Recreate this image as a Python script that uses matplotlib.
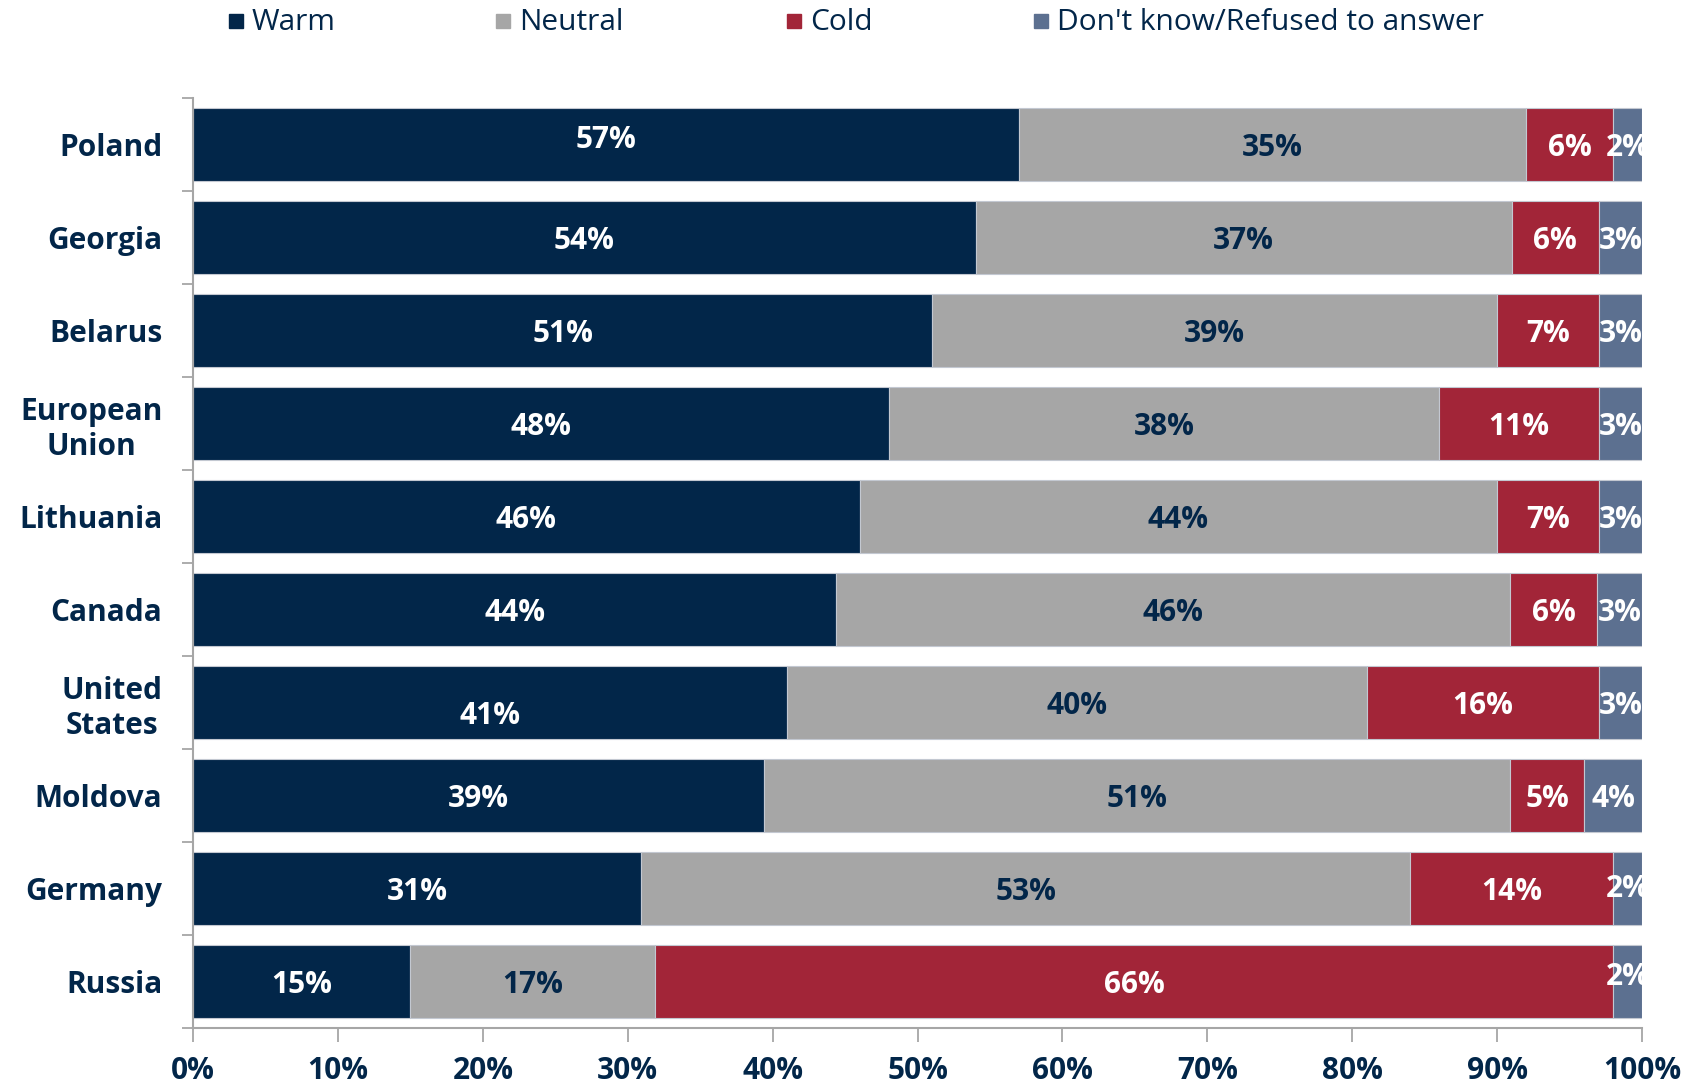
import numpy as np
import matplotlib.pyplot as plt
from matplotlib.patches import Rectangle

countries = ["Poland", "Georgia", "Belarus", "European\nUnion", "Lithuania",
             "Canada", "United\nStates", "Moldova", "Germany", "Russia"]
warm = [57, 54, 51, 48, 46, 44.4, 41, 39.4, 30.9, 15]
neutral = [35, 37, 39, 38, 44, 46.5, 40, 51.5, 53.1, 16.9]
cold = [6, 6, 7, 11, 7, 6, 16, 5.1, 14, 66.1]
dk = [2, 3, 3, 3, 3, 3.1, 3, 4, 2, 2]

warm_lbl = [57, 54, 51, 48, 46, 44, 41, 39, 31, 15]
neutral_lbl = [35, 37, 39, 38, 44, 46, 40, 51, 53, 17]
cold_lbl = [6, 6, 7, 11, 7, 6, 16, 5, 14, 66]
dk_lbl = [2, 3, 3, 3, 3, 3, 3, 4, 2, 2]

series = ["Warm", "Neutral", "Cold", "Don't know/Refused to answer"]
colors = ["#022649", "#A6A6A6", "#A22538", "#5C7090"]
text_colors = ["white", "#022649", "white", "white"]
NAVY = "#022649"
FONT = "Open Sans"

# a few labels in the original sit off-centre
nudge = {(0, 0): -0.08, (6, 0): 0.11, (9, 3): -0.08, (8, 3): -0.03}

fig = plt.figure(figsize=(17.02, 10.83), dpi=100)
ax = fig.add_axes([0.1134, 0.0508, 0.8514, 0.8587])

y = np.arange(len(countries))
values = [warm, neutral, cold, dk]
labels = [warm_lbl, neutral_lbl, cold_lbl, dk_lbl]
left = np.zeros(len(countries))
for si, (vals, lbls, col, tcol) in enumerate(zip(values, labels, colors, text_colors)):
    vals = np.array(vals, dtype=float)
    ax.barh(y, vals, left=left, height=0.79, color=col,
            edgecolor="#C3C8D1", linewidth=0.8)
    for yi, l, v, lab in zip(y, left, vals, lbls):
        dy = 0.035 + nudge.get((yi, si), 0)
        ax.text(l + v / 2, yi + dy, f"{lab}%", ha="center", va="center",
                color=tcol, fontsize=21.5, fontweight="bold", family=FONT)
    left += vals

ax.set_xlim(0, 100)
ax.set_ylim(len(countries) - 0.5, -0.5)
ax.set_xticks(np.arange(0, 101, 10))
ax.set_xticklabels([f"{t}%" for t in range(0, 101, 10)])
ax.set_yticks(y)
ax.set_yticklabels(countries, multialignment="center")
ax.set_yticks(np.arange(-0.5, len(countries), 1), minor=True)

for lab in ax.get_xticklabels() + ax.get_yticklabels():
    lab.set_fontsize(21.5)
    lab.set_fontweight("bold")
    lab.set_family(FONT)
    lab.set_color(NAVY)

ax.tick_params(axis="y", which="major", length=0, pad=22)
ax.tick_params(axis="y", which="minor", length=8, width=1.3, color="#A6A6A6")
ax.tick_params(axis="x", length=10, width=1.3, color="#A6A6A6", pad=10)

for s in ["top", "right"]:
    ax.spines[s].set_visible(False)
for s in ["left", "bottom"]:
    ax.spines[s].set_color("#A6A6A6")
    ax.spines[s].set_linewidth(1.5)

# legend drawn by hand to keep the uneven spacing
leg_x = [229, 496, 787, 1034]
for x0, name, col in zip(leg_x, series, colors):
    fig.patches.append(Rectangle((x0 / 1702, 1 - 28 / 1083), 14 / 1702, 14 / 1083,
                                 transform=fig.transFigure, color=col))
    fig.text((x0 + 23) / 1702, 1 - 22 / 1083, name, ha="left", va="center",
             fontsize=21.5, color=NAVY, family=FONT)

plt.savefig("out.png", dpi=100)
